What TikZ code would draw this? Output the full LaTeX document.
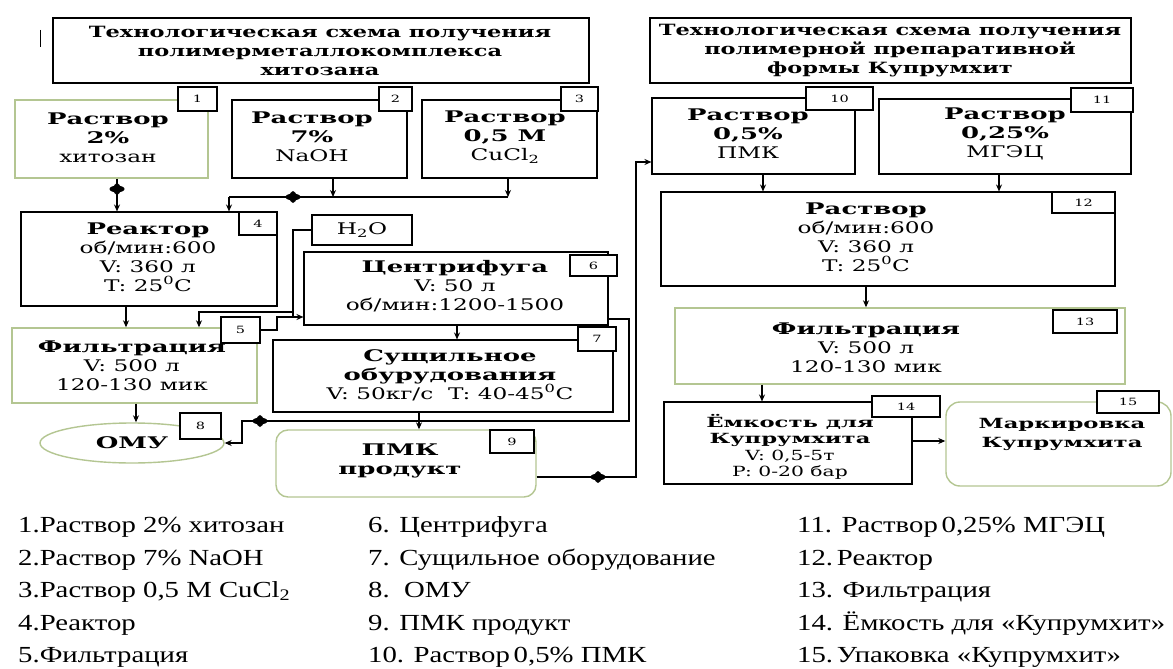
\documentclass[tikz,border=0pt]{standalone}
\usepackage{fontspec}
\setmainfont{Liberation Serif}
\newfontfamily\dg[FakeStretch=1.45]{DejaVu Serif}
\newfontfamily\dgb[FakeStretch=1.62]{DejaVu Serif Bold}
\newfontfamily\lgf[FakeStretch=1.25]{Liberation Serif}
\newcommand{\hdg}[1]{{\dgb #1}}
\usetikzlibrary{arrows.meta,fit,shapes.geometric}
\definecolor{grn}{RGB}{180,198,146}
\newcommand{\vlv}[1]{\fill #1 ellipse [x radius=7.5, y radius=3.4]; \fill #1 ellipse [x radius=3.4, y radius=6];}
\begin{document}
\begin{tikzpicture}[x=1pt,y=-1pt,
 bx/.style={draw=black, line width=1.1pt, fill=white, inner sep=0pt},
 gbx/.style={bx, draw=grn, line width=1.4pt},
 nb/.style={draw=black, line width=1.1pt, fill=white, inner sep=0pt, font=\dg\fontsize{10}{12}\selectfont},
 tx/.style={align=center, inner sep=0pt, font=\dg\fontsize{16}{19}\selectfont},
 ttl/.style={align=center, inner sep=0pt, font=\dg\bfseries\fontsize{15.5}{19}\selectfont},
 ar/.style={-{Stealth[length=7pt,width=6pt]}, line width=1.1pt},
 ln/.style={line width=1.1pt},
 lg/.style={anchor=base west, inner sep=0pt, font=\lgf\fontsize{23}{30}\selectfont}]
\useasboundingbox (0,0) rectangle (1173,669);
\fill[white] (0,0) rectangle (1173,669);

% ---------- left title
\node[bx, fit={(53,18) (589,83)}] (t1) {};
\node[ttl] (t1t) at (320,51) {Технологическая схема получения\\полимерметаллокомплекса\\хитозана};
\coordinate (m1) at (40,30); \coordinate (m2) at (40,47);
\draw[line width=1pt] (m1) -- (m2);

% ---------- sources
\node[gbx, fit={(15,100) (208,178)}] (b1) {};
\node[tx] (b1t) at (108,138) {\hdg{Раствор}\\\hdg{2\%}\\хитозан};
\node[nb, fit={(178,87) (217,111)}] (n1) {}; \node[nb, draw=none, fill=none] at (n1) {1};

\node[bx, fit={(232,100) (407,178)}] (b2) {};
\node[tx] (b2t) at (312,137) {\hdg{Раствор}\\\hdg{7\%}\\NaOH};
\node[nb, fit={(379,87) (412,111)}] (n2) {}; \node[nb, draw=none, fill=none] at (n2) {2};

\node[bx, fit={(422,100) (597,178)}] (b3) {};
\node[tx] (b3t) at (505,137) {\hdg{Раствор}\\\hdg{0,5 M}\\CuCl\textsubscript{2}};
\node[nb, fit={(561,87) (598,111)}] (n3) {}; \node[nb, draw=none, fill=none] at (n3) {3};

% ---------- reactor
\node[bx, fit={(21,212) (277,306)}] (b4) {};
\node[tx] (b4t) at (148,257) {\hdg{Реактор}\\об/мин:600\\V: 360 л\\T: 25\textsuperscript{0}C};
\node[nb, fit={(239,212) (277,235)}] (n4) {}; \node[nb, draw=none, fill=none] at (n4) {4};

% ---------- H2O
\node[bx, fit={(312,215) (412,245)}] (h) {};
\node[tx] (ht) at (h) {H\textsubscript{2}O};

% ---------- centrifuge
\node[bx, fit={(304,252) (608,325)}] (b6) {};
\node[tx] (b6t) at (455,286) {\hdg{Центрифуга}\\V: 50 л\\об/мин:1200-1500};
\node[nb, fit={(570,255) (617,276)}] (n6) {}; \node[nb, draw=none, fill=none] at (n6) {6};

% ---------- filtration left
\node[gbx, fit={(12,328) (257,403)}] (b5) {};
\node[tx] (b5t) at (132,366) {\hdg{Фильтрация}\\V: 500 л\\120-130 мик};
\node[nb, fit={(221,317) (260,343)}] (n5) {}; \node[nb, draw=none, fill=none] at (n5) {5};

% ---------- drying
\node[bx, fit={(273,340) (613,412)}] (b7) {};
\node[tx] (b7t) at (450,375) {\hdg{Сущильное}\\\hdg{обурудования}\\V: 50кг/с\ \ T: 40-45\textsuperscript{0}C};
\node[nb, fit={(578,327) (616,351)}] (n7) {}; \node[nb, draw=none, fill=none] at (n7) {7};

% ---------- OMU
\node[ellipse, draw=grn, line width=1.4pt, fill=white, minimum width=184, minimum height=40, inner sep=0pt, font=\dgb\fontsize{16}{19}\selectfont] (omu) at (132,443) {ОМУ};
\node[nb, fit={(180,413) (221,439)}] (n8) {}; \node[nb, draw=none, fill=none] at (n8) {8};

% ---------- PMK product
\node[gbx, rounded corners=12pt, fit={(276,430) (536,497)}] (b9) {};
\node[tx] (b9t) at (400,461) {\hdg{ПМК}\\\hdg{продукт}};
\node[nb, fit={(490,430) (534,453)}] (n9) {}; \node[nb, draw=none, fill=none] at (n9) {9};

% ---------- right title
\node[bx, fit={(650,18) (1131,83)}] (t2) {};
\node[ttl] (t2t) at (890,51) {Технологическая схема получения\\полимерной препаративной\\формы Купрумхит};

\node[bx, fit={(652,98) (855,174)}] (b10) {};
\node[tx] (b10t) at (748,134) {\hdg{Раствор}\\\hdg{0,5\%}\\ПМК};
\node[nb, fit={(806,87) (873,110)}] (n10) {}; \node[nb, draw=none, fill=none] at (n10) {10};

\node[bx, fit={(879,99) (1131,174)}] (b11) {};
\node[tx] (b11t) at (1005,134) {\hdg{Раствор}\\\hdg{0,25\%}\\МГЭЦ};
\node[nb, fit={(1071,88) (1133,112)}] (n11) {}; \node[nb, draw=none, fill=none] at (n11) {11};

\node[bx, fit={(661,192) (1115,286)}] (b12) {};
\node[tx] (b12t) at (866,237) {\hdg{Раствор}\\об/мин:600\\V: 360 л\\T: 25\textsuperscript{0}C};
\node[nb, fit={(1052,192) (1115,213)}] (n12) {}; \node[nb, draw=none, fill=none] at (n12) {12};

\node[gbx, fit={(675,308) (1125,384)}] (b13) {};
\node[tx] (b13t) at (866,348) {\hdg{Фильтрация}\\V: 500 л\\120-130 мик};
\node[nb, fit={(1053,310) (1117,333)}] (n13) {}; \node[nb, draw=none, fill=none] at (n13) {13};

\node[bx, fit={(664,402) (912,484)}] (b14) {};
\node[tx, font=\dg\fontsize{14}{16.5}\selectfont] (b14t) at (790,447) {\hdg{Ёмкость для}\\\hdg{Купрумхита}\\V: 0,5-5т\\P: 0-20 бар};
\node[nb, fit={(872,396) (940,417)}] (n14) {}; \node[nb, draw=none, fill=none] at (n14) {14};

\node[gbx, rounded corners=14pt, fit={(946,402) (1171,486)}] (b15) {};
\node[tx, font=\dg\fontsize{14}{19}\selectfont] (b15t) at (1062,434) {\hdg{Маркировка}\\\hdg{Купрумхита}};
\node[nb, fit={(1097,391) (1159,413)}] (n15) {}; \node[nb, draw=none, fill=none] at (n15) {15};

% ---------- connectors left
\coordinate (jA) at (229,197);
\coordinate (jB) at (508,197);
\draw[ar] (b1.south -| 117,0) -- (b4.north -| 117,0);
\vlv{(117,189)}
\draw[ar] (b2.south -| 333,0) -- (jA -| 333,0);
\draw[ar] (b3.south -| jB) -- (jB);
\draw[ln] (jB) -- (jA);
\draw[ar] (jA) -- (b4.north -| jA);
\vlv{(293,197)}

\coordinate (jH) at (293,317);
\coordinate (jW) at (293,312);
\draw[ar] (h.west) -| (jH) -- (b6.west |- jH);
\draw[ar] (jW) -| (b5.north -| 199,0);
\draw[ar] (b4.south -| 126,0) -- (b5.north -| 126,0);
\draw[ln] (n5.east) -| (277,317) -- (jH);

\draw[ar] (b6.south -| 457,0) -- (b7.north -| 457,0);
\coordinate (jC) at (629,421);
\draw[ar] (b6.east |- 0,319) -| (jC) -- (242,421) |- (omu.east);
\vlv{(260,421)}
\draw[ar] (b5.south -| 136,0) -- (omu.north -| 136,0);
\draw[ar] (b7.south -| 419,0) -- (b9.north -| 419,0);

\coordinate (jR) at (636,162);
\draw[ar] (b9.east |- 0,477) -| (jR) -- (b10.west |- jR);
\vlv{(598,477)}

% ---------- connectors right
\draw[ar] (b10.south -| 763,0) -- (b12.north -| 763,0);
\draw[ar] (b11.south -| 999,0) -- (b12.north -| 999,0);
\draw[ar] (b12.south -| 866,0) -- (b13.north -| 866,0);
\draw[ar] (b13.south -| 762,0) -- (b14.north -| 762,0);
\draw[ar] (b14.east |- 0,441) -- (b15.west |- 0,441);

% ---------- legend
\node[lg] (l1) at (18,532) {1.Раствор 2\% хитозан};
\node[lg] (l2) at (18,565) {2.Раствор 7\% NaOH};
\node[lg] (l3) at (18,597) {3.Раствор 0,5 M CuCl\textsubscript{2}};
\node[lg] (l4) at (18,630) {4.Реактор};
\node[lg] (l5) at (18,662) {5.Фильтрация};
\node[lg] (l6) at (368,532) {6. Центрифуга};
\node[lg] (l7) at (368,565) {7. Сущильное оборудование};
\node[lg] (l8) at (368,597) {8.\ \ ОМУ};
\node[lg] (l9) at (368,630) {9. ПМК продукт};
\node[lg] (l10) at (368,662) {10. Раствор\,0,5\% ПМК};
\node[lg] (l11) at (797,532) {11. Раствор\,0,25\% МГЭЦ};
\node[lg] (l12) at (797,565) {12.\,Реактор};
\node[lg] (l13) at (797,597) {13. Фильтрация};
\node[lg] (l14) at (797,630) {14. Ёмкость для «Купрумхит»};
\node[lg] (l15) at (797,662) {15.\,Упаковка «Купрумхит»};
\end{tikzpicture}
\end{document}
